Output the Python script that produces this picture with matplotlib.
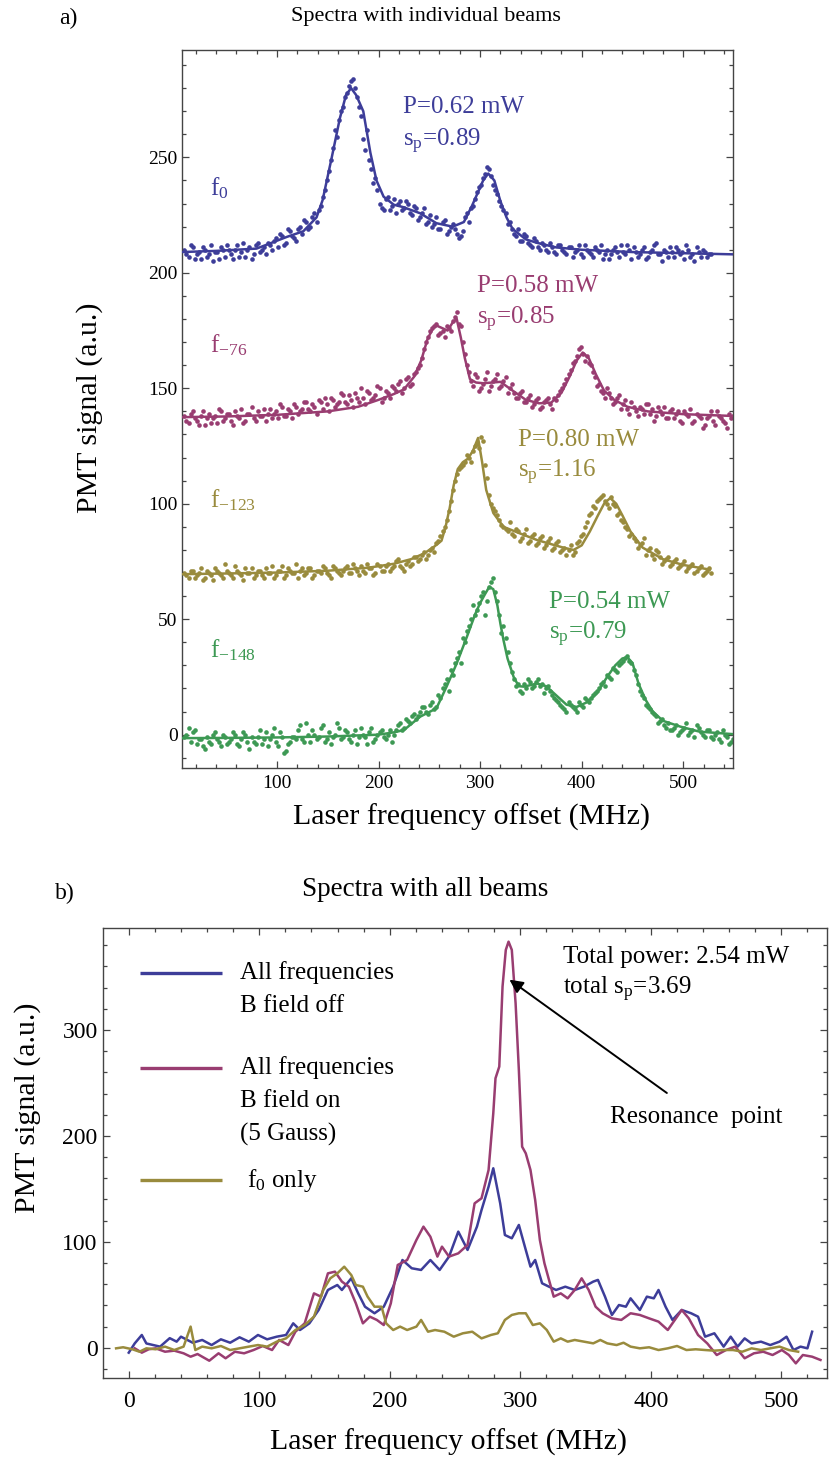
import numpy as np
import matplotlib
matplotlib.use('Agg')
import matplotlib.pyplot as plt
from matplotlib.ticker import MultipleLocator

plt.rcParams['font.family'] = ['Liberation Serif', 'DejaVu Serif']
plt.rcParams['mathtext.fontset'] = 'stix'

# ---- panel a: measured points and fitted curves ----
# points were read on two interleaved 4 MHz grids: 9, 13, ... and 11, 15, ...
pts_start = 9
pts_step = 4

f0_pts = [210, 207, 211, 208, 206, 210, 208, 205, 209, 211,
          207, 210, 206, 212, 209, 207, 211, 208, 213, 210,
          208, 212, 214, 211, 216, 213, 218, 215, 219, 217,
          222, 220, 226, 227, 233, 240, 249, 262, 266, 272,
          278, 283, 280, 272, 258, 262, 245, 241, 230, 227,
          233, 229, 226, 231, 228, 230, 225, 228, 224, 228,
          222, 220, 224, 219, 223, 218, 221, 217, 216, 224,
          222, 229, 235, 238, 243, 245, 238, 234, 229, 226,
          222, 217, 219, 214, 216, 212, 215, 211, 213, 210,
          213, 209, 212, 210, 208, 211, 209, 212, 207, 210,
          208, 211, 209, 206, 210, 208, 211, 207, 209, 212,
          206, 209, 208, 211, 207, 210, 213, 208, 210, 207,
          209, 211, 208, 206, 210, 208, 211, 207, 209, 208]
f0_pts2 = [208, 212, 206, 209, 211, 207, 212, 209, 206, 210,
           212, 208, 210, 207, 213, 210, 206, 212, 209, 211,
           213, 210, 215, 217, 212, 219, 216, 214, 220, 223,
           219, 224, 222, 229, 236, 244, 254, 259, 270, 276,
           281, 284, 276, 268, 253, 249, 239, 236, 228, 232,
           227, 232, 230, 227, 231, 226, 229, 223, 226, 221,
           225, 221, 219, 222, 217, 220, 219, 215, 218, 226,
           228, 232, 237, 241, 246, 242, 236, 231, 227, 221,
           219, 216, 214, 217, 213, 211, 214, 210, 212, 209,
           211, 208, 212, 209, 211, 207, 210, 208, 212, 209,
           207, 210, 212, 208, 206, 210, 209, 212, 208, 210,
           211, 207, 210, 206, 209, 212, 208, 205, 209, 211,
           207, 210, 209, 212, 207, 205, 209, 210, 207, 208]
f0_fit_x = [6, 40, 80, 110, 126, 139, 145, 154, 162, 168, 173, 178, 185, 192,
            198, 205, 215, 224, 241, 257, 273, 284, 292, 297, 303, 308, 314,
            320, 326, 332, 345, 356, 375, 400, 450, 500, 550]
f0_fit_y = [209, 209.5, 210.5, 215.6, 218, 224, 231.5, 250, 267, 277, 280, 277,
            270, 252, 240, 233, 229.5, 228.5, 225.8, 221.5, 220, 222, 229, 234,
            240, 243, 240, 231, 224, 219, 214.5, 213, 211, 210, 209, 208.5, 208]

f76_pts = [138, 135, 140, 136, 138, 134, 139, 137, 135, 140,
           137, 139, 134, 138, 141, 136, 139, 137, 140, 138,
           136, 141, 139, 137, 142, 138, 140, 143, 139, 141,
           144, 140, 142, 145, 141, 143, 146, 142, 144, 147,
           143, 145, 148, 144, 146, 149, 145, 147, 150, 146,
           148, 151, 149, 153, 150, 155, 152, 157, 160, 167,
           172, 176, 178, 174, 172, 176, 179, 183, 177, 165,
           157, 151, 155, 150, 154, 149, 153, 156, 151, 155,
           150, 148, 146, 149, 144, 147, 143, 146, 142, 145,
           143, 146, 147, 150, 154, 158, 162, 167, 165, 164,
           160, 155, 152, 148, 150, 146, 144, 147, 143, 141,
           144, 140, 142, 139, 143, 141, 138, 140, 142, 137,
           141, 139, 136, 140, 138, 135, 139, 137, 134, 138,
           136, 140, 137, 135, 139, 138]
f76_pts2 = [136, 139, 137, 134, 140, 137, 135, 138, 141, 136,
            139, 136, 140, 137, 135, 139, 142, 136, 138, 141,
            139, 137, 140, 143, 138, 141, 137, 142, 140, 144,
            141, 143, 139, 144, 146, 140, 145, 143, 148, 144,
            147, 142, 146, 150, 143, 148, 146, 151, 144, 149,
            146, 150, 152, 148, 154, 151, 156, 159, 163, 170,
            175, 177, 173, 175, 177, 175, 181, 178, 170, 160,
            153, 156, 149, 152, 157, 151, 154, 150, 153, 148,
            152, 146, 148, 144, 146, 142, 145, 141, 144, 146,
            141, 145, 149, 152, 156, 161, 164, 168, 162, 161,
            157, 151, 149, 146, 148, 143, 146, 141, 145, 139,
            142, 138, 141, 143, 139, 136, 142, 139, 137, 140,
            137, 140, 135, 139, 141, 136, 138, 133, 137, 140,
            134, 138, 136, 133, 137]
f76_fit_x = [6, 50, 100, 150, 180, 200, 215, 225, 235, 242, 248, 254, 258, 263,
             268, 273, 277, 281, 285, 290, 296, 303, 312, 320, 332, 345, 358,
             370, 380, 388, 395, 401, 407, 414, 422, 432, 445, 465, 500, 550]
f76_fit_y = [137.5, 137.8, 138.5, 140, 142, 145, 147.5, 149.5, 155, 162, 171,
             176.5, 177, 176, 175, 178.5, 180, 172, 163, 154, 152.5, 152.2,
             152.5, 152.8, 149, 145, 143.5, 143.8, 148, 155, 162, 165.5, 163,
             156, 149, 145, 142, 140, 138.8, 138]

f123_pts = [70, 68, 71, 69, 72, 68, 70, 67, 71, 69,
            74, 70, 68, 71, 69, 72, 70, 68, 71, 69,
            72, 70, 68, 71, 73, 69, 71, 70, 68, 72,
            70, 72, 69, 71, 73, 70, 68, 72, 70, 71,
            73, 70, 72, 69, 71, 74, 72, 70, 73, 71,
            74, 72, 75, 73, 71, 75, 74, 77, 76, 79,
            78, 81, 83, 86, 90, 97, 106, 113, 116, 118,
            120, 123, 126, 129, 117, 104, 98, 95, 91, 89,
            92, 86, 88, 85, 89, 84, 87, 83, 86, 82,
            85, 81, 84, 80, 78, 82, 79, 84, 87, 92,
            96, 98, 102, 104, 100, 103, 99, 96, 92, 89,
            87, 84, 82, 85, 80, 78, 80, 77, 75, 77,
            74, 76, 73, 75, 72, 74, 71, 73, 70, 72]
f123_pts2 = [69, 71, 68, 70, 67, 71, 69, 72, 70, 68,
             71, 69, 73, 70, 67, 70, 72, 69, 71, 68,
             70, 73, 69, 71, 68, 72, 70, 74, 71, 69,
             72, 68, 71, 70, 72, 69, 73, 71, 69, 72,
             70, 74, 71, 73, 70, 72, 69, 74, 71, 73,
             71, 73, 76, 72, 74, 73, 77, 75, 78, 76,
             80, 79, 84, 88, 93, 101, 110, 115, 117, 121,
             118, 125, 124, 127, 111, 100, 97, 93, 90, 88,
             87, 89, 84, 87, 83, 86, 82, 85, 81, 84,
             80, 83, 79, 81, 80, 78, 83, 86, 90, 95,
             99, 101, 103, 101, 98, 100, 95, 93, 90, 86,
             85, 81, 83, 78, 81, 76, 79, 74, 76, 73,
             75, 72, 74, 71, 73, 70, 72, 69, 71, 70]
f123_fit_x = [6, 50, 100, 150, 190, 215, 232, 245, 255, 262, 266, 270, 274, 278,
              283, 288, 293, 298, 302, 306, 313, 323, 339, 356, 370, 382, 392,
              400, 408, 416, 422, 428, 434, 440, 448, 460, 480, 500, 526]
f123_fit_y = [69.5, 69.8, 70.2, 71, 72.3, 74, 76, 78.5, 81.5, 84, 90, 98, 108,
              115, 118, 119.5, 123, 128.5, 118, 106, 96, 90, 87.2, 84.3, 82.5,
              81, 80, 82, 88, 95, 100, 102.5, 100, 95, 88, 81, 76, 73.5, 71.5]

f148_pts = [-1, 3, 1, -4, -2, -6, -3, 0, -2, -5,
            -1, -3, 1, -4, -2, 0, -6, -3, -1, -4,
            1, -2, 3, -5, -1, -7, -3, -1, 2, -2,
            5, -3, 0, -1, 4, -2, -4, 0, 3, -1,
            1, -3, 2, -1, 0, -4, 3, -2, 1, -1,
            0, -3, 2, 5, 3, 6, 8, 7, 10, 12,
            9, 14, 12, 16, 22, 19, 26, 33, 31, 40,
            47, 56, 54, 60, 52, 64, 68, 58, 44, 42,
            31, 24, 22, 18, 20, 23, 21, 24, 22, 20,
            19, 16, 14, 12, 10, 13, 11, 14, 12, 15,
            16, 18, 20, 23, 26, 24, 28, 30, 32, 34,
            31, 26, 19, 16, 12, 10, 8, 6, 4, 5,
            2, 4, 1, 3, 0, 2, 4, 1, -1, 2,
            -2, 1, -3, 0, -4, -2]
f148_pts2 = [0, -3, 2, -2, -5, -1, -4, 1, -3, 0,
             -4, -2, 0, -5, 1, -3, -1, -4, 2, -2,
             -5, 0, -3, 1, -8, -4, -1, -2, 4, -3,
             0, 2, -2, 3, -3, 1, -1, 5, -2, 2,
             -2, 0, -4, 3, -1, 1, -3, 0, 2, -2,
             2, 0, 4, 2, 7, 5, 9, 8, 12, 10,
             13, 11, 17, 20, 24, 28, 31, 36, 42, 45,
             50, 52, 57, 62, 58, 66, 62, 52, 47, 36,
             27, 21, 19, 22, 24, 20, 23, 21, 18, 21,
             17, 15, 13, 11, 14, 12, 10, 13, 16, 14,
             17, 19, 22, 21, 25, 29, 27, 31, 33, 32,
             28, 22, 17, 13, 11, 9, 5, 7, 3, 2,
             3, 0, 2, 5, 1, -1, 3, 0, 2, -1,
             0, -2, 2, -1, -3]
f148_fit_x = [6, 50, 100, 150, 200, 215, 225, 241, 257, 267, 277, 287, 295, 300,
              305, 309, 313, 317, 320, 323, 327, 333, 338, 343, 350, 356, 365,
              375, 385, 395, 405, 415, 425, 433, 440, 445, 450, 456, 463, 470,
              480, 497, 516, 550]
f148_fit_y = [-1.5, -1.4, -1.2, -0.8, 0, 1, 2, 7.8, 11.4, 20.8, 30.9, 42.4, 52,
              57, 61, 64, 63, 56, 48, 41, 33, 25, 21, 20.8, 21.5, 22.2, 21, 17,
              13, 12, 14, 18, 25, 30, 33, 33.5, 31, 22, 15, 10, 6, 3.5, 1.3, 0.2]

# ---- panel b: spectra with all beams ----
boff_x = [0, 4.6, 10, 13.5, 24, 31.4, 36.7, 40, 49, 56.3, 63.5, 70.6, 77.7, 84.9,
          92, 99, 106, 113.4, 120.5, 126, 131.2, 138.4, 145.5, 152.6, 159.8,
          163.3, 170.5, 175.8, 181, 188.3, 195.4, 202.6, 209.7, 216.8, 224,
          231.1, 238.2, 245.4, 252.5, 259.6, 266.8, 270.3, 275.7, 279.3, 284.6,
          288.2, 293.5, 298.9, 304.2, 307.8, 311.4, 316.7, 322, 327.4, 334.5,
          341.7, 348.8, 355.9, 359.5, 364.9, 370.2, 375.6, 380.9, 384.5, 391.6,
          397, 402.3, 405.9, 411.3, 416.6, 423.7, 430.9, 436.2, 441.6, 448.7,
          455.8, 461.2, 466.5, 471.9, 477.2, 484.4, 491.5, 498.6, 504, 509.3,
          514.7, 520, 523.6]
boff_y = [-4.7, 4.1, 12, 4, 1, 9, 5.7, 10.4, 4.7, 7.3, 2.5, 7.9, 4.7, 9.8, 5.7,
          12, 7.9, 10.4, 12, 23, 16.7, 23, 35.6, 54.5, 59.2, 54.5, 65.5, 51.3,
          38.7, 32.5, 38.7, 57.6, 82.8, 75, 73.4, 82.8, 73.4, 86, 109.6, 92.3,
          114.3, 130, 152, 169.4, 136.3, 106.4, 103.3, 115.9, 92.3, 76.5, 82.8,
          60.8, 57.6, 54.5, 57.6, 54.5, 57.6, 62.4, 64, 48.2, 30.9, 40.3, 38.7,
          46.6, 35.6, 48.2, 46.6, 54.5, 38.7, 26.2, 35.6, 32.5, 29.3, 10.4, 13.6,
          1, 10.4, 1, 8.8, 4, 5.7, 2.5, 5.7, 10.4, -2.2, 1, -0.6, 15.1]

bon_x = [4.6, 10, 15.3, 20.6, 27.8, 34.9, 42, 47.4, 52.7, 61.7, 68.8, 74.2, 81.3,
         88.4, 95.6, 102.7, 109.8, 115.2, 122.3, 127.7, 134.8, 141.9, 147.3,
         152.6, 158, 163.3, 168.7, 174, 179.4, 184.7, 190.1, 195.4, 200.8, 206.1,
         213.3, 220.4, 225.8, 231.1, 236.5, 240, 245.4, 252.5, 259.6, 265, 270.3,
         275.7, 279.3, 281, 283.9, 286.4, 288.9, 291, 293.5, 296.4, 298.9, 301.4,
         304.2, 307.8, 311.4, 315, 318.5, 322, 325.6, 331, 336.3, 341.7, 347,
         352.4, 357.7, 363.1, 370.2, 377.4, 384.5, 391.6, 398.7, 405.9, 413,
         418.4, 423.7, 429.1, 436.2, 443.3, 450.5, 457.6, 464.7, 471.9, 479,
         486.1, 493.3, 500.4, 505.8, 511.1, 516.5, 523.6, 530]
bon_y = [-0.6, -4.7, -1.5, -0.6, -3.8, -2.8, -5.3, -8.5, -6, -12.3, -5.3, -10,
         -3.8, -5.3, -2.2, 1.6, -2.2, 7.3, 2.5, 15.1, 23, 51.3, 48.2, 70.2, 71.8,
         62.4, 57.6, 41.9, 23, 29.3, 26.2, 21.4, 41.9, 78.1, 82.8, 101.7, 114.3,
         104.8, 86, 95.4, 86, 89.1, 97, 136.3, 141.1, 167.8, 221.3, 254.4, 265.4,
         341, 375.6, 383.4, 375.6, 325.2, 262.2, 189.8, 183.5, 167.8, 139.5,
         101.7, 79.7, 64, 48.2, 51.3, 46.6, 54.5, 65.5, 54.5, 38.7, 32.5, 27.7,
         26.2, 32.5, 30.9, 27.7, 24.6, 16.7, 26.2, 35.6, 27.7, 12, 4, -6.9, -2.2,
         1, -10, -5.3, -3.8, -6.9, -2.2, -6.9, -14.8, -6.9, -8.5, -11.6]

only_x = [-9.7, -4.3, 2.8, 8.2, 13.5, 20.6, 27.8, 34.9, 42, 47.4, 51, 56.3, 63.5,
          70.6, 77.7, 84.9, 92, 99, 106, 113.4, 120.5, 127.7, 134.8, 141.9,
          149.1, 154.4, 159.8, 165.1, 170.5, 174, 179.4, 183, 188.3, 193.7,
          197.2, 202.6, 207.9, 213.3, 220.4, 224, 229.3, 234.7, 241.8, 249, 256,
          263.2, 270.3, 277.5, 282.8, 288.2, 293.5, 298.9, 304.2, 309.6, 315,
          320.3, 325.6, 331, 336.3, 341.7, 348.8, 355.9, 361.3, 366.6, 373.8,
          379.1, 384.5, 391.6, 398.7, 405.9, 413, 420.1, 427.3, 434.4, 441.6,
          448.7, 455.8, 463, 470.1, 477.2, 484.4, 491.5, 498.6, 505.8, 512.9]
only_y = [-0.6, 0.4, -1.5, -3.8, -0.6, -1.5, 1, -2.2, 1, 19.9, -2.2, 1, -0.6,
          1.6, -2.2, -0.6, 1, 2.5, 1, 5.7, 8.8, 16.7, 21.4, 29.3, 54.5, 65.5,
          70.2, 76.5, 68.6, 59.2, 57.6, 48.2, 38.7, 38.7, 23, 16.7, 19.9, 16.7,
          19.9, 26.2, 15.1, 16.7, 15.1, 10.4, 13.6, 15.1, 8.8, 12, 13.6, 26.2,
          30.9, 32.5, 32.5, 21.4, 23, 16.7, 5.7, 8.8, 5.7, 7.3, 5.7, 4.1, 7.3,
          4.1, 2.5, 4.7, 1, -0.6, 0.4, -2.2, -0.6, 1.6, -2.2, -1.5, -2.2, -2.8,
          -2.2, -2.2, -3.8, -0.6, -2.2, -0.6, 1, -2.2, -3.8]

blue = '#3d3d99'
purple = '#993d71'
gold = '#998b3d'
green = '#3d9954'
frame_col = '#444444'

W, H = 830, 1465


def fx(px):
    return px / W


def fy(py):
    return 1 - py / H


def style_frame(ax, xmaj, xmin, ymaj, ymin, size, xpad, ypad):
    ax.xaxis.set_major_locator(MultipleLocator(xmaj))
    ax.xaxis.set_minor_locator(MultipleLocator(xmin))
    ax.yaxis.set_major_locator(MultipleLocator(ymaj))
    ax.yaxis.set_minor_locator(MultipleLocator(ymin))
    ax.tick_params(which='both', direction='in', top=True, right=True,
                   color=frame_col, width=0.9, labelsize=size)
    ax.tick_params(which='major', length=5)
    ax.tick_params(which='minor', length=3)
    ax.tick_params(axis='x', pad=xpad)
    ax.tick_params(axis='y', pad=ypad)
    for s in ax.spines.values():
        s.set_color(frame_col)
        s.set_linewidth(1.0)


fig = plt.figure(figsize=(8.3, 14.65), dpi=100)

# Panel a
axa = fig.add_axes([fx(181.7), fy(767.7), (733.3 - 181.7) / W, (767.7 - 50) / H])
series = [(f0_pts, f0_pts2, f0_fit_x, f0_fit_y, blue),
          (f76_pts, f76_pts2, f76_fit_x, f76_fit_y, purple),
          (f123_pts, f123_pts2, f123_fit_x, f123_fit_y, gold),
          (f148_pts, f148_pts2, f148_fit_x, f148_fit_y, green)]
for pts, pts2, fitx, fity, col in series:
    xa = pts_start + pts_step * np.arange(len(pts))
    xb = pts_start + 2 + pts_step * np.arange(len(pts2))
    axa.scatter(xa, pts, s=11, color=col, linewidths=0, zorder=2)
    axa.scatter(xb, pts2, s=11, color=col, linewidths=0, zorder=2)
    axa.plot(fitx, fity, color=col, lw=1.8, zorder=3)
axa.set_xlim(6.3, 549.2)
axa.set_ylim(-14.3, 296.5)
style_frame(axa, 100, 20, 50, 10, 14, 5, 3)

tsize = 18
axa.text(224, 272, 'P=0.62 mW', color=blue, fontsize=tsize, va='center')
axa.text(224, 257, r'$\mathregular{s_p}$=0.89', color=blue, fontsize=tsize, va='center')
axa.text(34, 236.5, r'$\mathregular{f_0}$', color=blue, fontsize=tsize, va='center')
axa.text(297, 194.5, 'P=0.58 mW', color=purple, fontsize=tsize, va='center')
axa.text(297, 180, r'$\mathregular{s_p}$=0.85', color=purple, fontsize=tsize, va='center')
axa.text(34, 168.5, r'$\mathregular{f_{-76}}$', color=purple, fontsize=tsize, va='center')
axa.text(337, 127.5, 'P=0.80 mW', color=gold, fontsize=tsize, va='center')
axa.text(337, 113.5, r'$\mathregular{s_p}$=1.16', color=gold, fontsize=tsize, va='center')
axa.text(34, 101.5, r'$\mathregular{f_{-123}}$', color=gold, fontsize=tsize, va='center')
axa.text(368, 57.5, 'P=0.54 mW', color=green, fontsize=tsize, va='center')
axa.text(368, 43.5, r'$\mathregular{s_p}$=0.79', color=green, fontsize=tsize, va='center')
axa.text(34, 36.5, r'$\mathregular{f_{-148}}$', color=green, fontsize=tsize, va='center')

fig.text(fx(68), fy(18), 'a)', fontsize=17, ha='center', va='center')
fig.text(fx(426), fy(17), 'Spectra with individual beams', fontsize=16,
         ha='center', va='center')
fig.text(fx(471), fy(817), 'Laser frequency offset (MHz)', fontsize=21.5,
         ha='center', va='center')
fig.text(fx(90), fy(408), 'PMT signal (a.u.)', fontsize=21.5, rotation=90,
         ha='center', va='center')

# Panel b
axb = fig.add_axes([fx(103.3), fy(1378.3), (827 - 103.3) / W, (1378.3 - 928.3) / H])
axb.plot(boff_x, boff_y, color=blue, lw=1.8)
axb.plot(bon_x, bon_y, color=purple, lw=1.8)
axb.plot(only_x, only_y, color=gold, lw=1.8)
axb.set_xlim(-19.5, 535)
axb.set_ylim(-28.9, 396)
style_frame(axb, 100, 20, 100, 20, 17, 9, 4)


# legend drawn by hand so each key sits on the first line of its label
def ax_x(px):
    return (px - 103.3) / 723.7


def ax_y(py):
    return (1378.3 - py) / 450


key_kw = dict(transform=axb.transAxes, lw=2.4, solid_capstyle='butt', clip_on=False)
for py, col in [(973, blue), (1068, purple), (1180, gold)]:
    axb.plot([ax_x(140), ax_x(222)], [ax_y(py), ax_y(py)], color=col, **key_kw)
lsize = 18
for py, txt in [(973, 'All frequencies'), (1006, 'B field off'),
                (1068, 'All frequencies'), (1101, 'B field on'),
                (1134, '(5 Gauss)')]:
    axb.text(ax_x(240), ax_y(py), txt, transform=axb.transAxes,
             fontsize=lsize, va='center')
axb.text(ax_x(246.6), ax_y(1180), r'$\mathregular{f_0}$ only',
         transform=axb.transAxes, fontsize=lsize, va='center')

axb.text(332.6, 369.2, 'Total power: 2.54 mW', fontsize=lsize, va='center')
axb.text(332.6, 337.8, r'total $\mathregular{s_p}$=3.69', fontsize=lsize, va='center')
axb.text(368.7, 218.1, 'Resonance  point', fontsize=lsize, va='center')
axb.annotate('', xy=(291.7, 347.5), xytext=(412.3, 240.5),
             arrowprops=dict(arrowstyle='-|>', color='black', lw=1.4,
                             mutation_scale=20, shrinkA=0, shrinkB=0))

fig.text(fx(65), fy(893), 'b)', fontsize=17, ha='center', va='center')
fig.text(fx(425), fy(889), 'Spectra with all beams', fontsize=19.5,
         ha='center', va='center')
fig.text(fx(448), fy(1442), 'Laser frequency offset (MHz)', fontsize=21.5,
         ha='center', va='center')
fig.text(fx(28), fy(1108), 'PMT signal (a.u.)', fontsize=21.5, rotation=90,
         ha='center', va='center')

fig.savefig('out.png', dpi=100)
